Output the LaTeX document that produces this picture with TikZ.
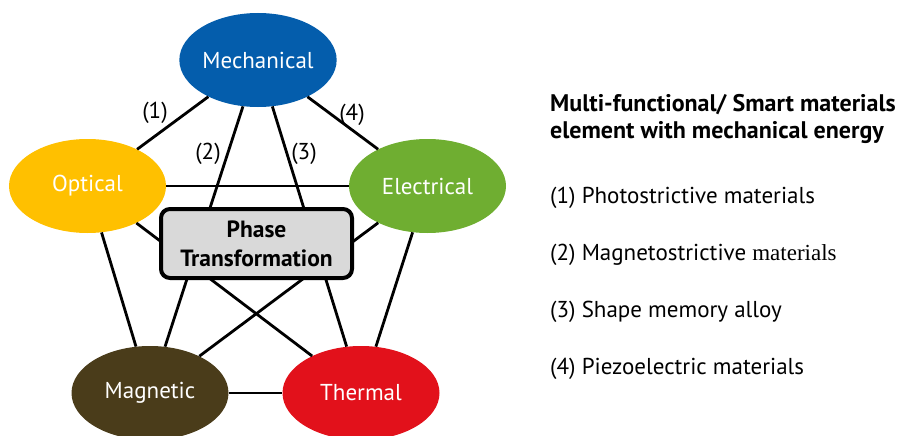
\documentclass[tikz,border=0pt]{standalone}
\usepackage{fontspec}
\setmainfont{PT Sans}
\newfontfamily\timesword{Liberation Serif}
\usetikzlibrary{%
  shapes.geometric,%
  positioning%
}

\definecolor{mechblue}{HTML}{045DAC}
\definecolor{optyellow}{HTML}{FFC000}
\definecolor{elecgreen}{HTML}{6FAE31}
\definecolor{magbrown}{HTML}{4A3C1A}
\definecolor{thermred}{HTML}{E2111B}
\definecolor{coregray}{HTML}{D9D9D9}

\begin{document}
\begin{tikzpicture}[
      x=1pt, y=-1pt,
      font=\fontsize{23}{27}\selectfont,
      domain/.style={
        ellipse,
        fill=#1,
        text=white,
        minimum width=157pt,
        minimum height=94pt,
        inner sep=0pt
      },
      link/.style={line width=2.8pt},
      core/.style={
        draw,
        line width=4pt,
        rounded corners=9pt,
        fill=coregray,
        minimum width=191pt,
        minimum height=69pt,
        align=center,
        font=\fontsize{23.5}{29}\selectfont\bfseries
      },
      lbl/.style={font=\fontsize{23}{24}\selectfont},
      item/.style={anchor=base west, inner sep=0pt}
    ]
    \useasboundingbox (0,0) rectangle (897,436);

    \node[domain=mechblue]  (mech)  at (258,60)    {Mechanical};
    \node[domain=optyellow] (opt)   at (87.5,186)  {Optical};
    \node[domain=elecgreen] (elec)  at (427.5,186) {Electrical};
    \node[domain=magbrown]  (mag)   at (150,393)   {Magnetic};
    \node[domain=thermred]  (therm) at (361,393)   {Thermal};

    \foreach \a/\b in {mech/opt, mech/elec, mech/mag, mech/therm,
                       opt/elec, opt/mag, opt/therm,
                       elec/mag, elec/therm, mag/therm}
      \draw[link] (\a) -- (\b);

    \node[core] (phase) at (256.5,243.5) {Phase\\Transformation};

    \node[lbl] (l1) at (155,113) {(1)};
    \node[lbl] (l2) at (208,154) {(2)};
    \node[lbl] (l3) at (304,154) {(3)};
    \node[lbl] (l4) at (352,115) {(4)};

    \node[item, align=left, font=\fontsize{24}{27}\selectfont\bfseries]
      (title) at (550,138)
      {Multi-functional/ Smart materials\\element with mechanical energy};

    \foreach \txt [count=\i] in {
        {(1) Photostrictive materials},
        {(2) Magnetostrictive {\timesword materials}},
        {(3) Shape memory alloy},
        {(4) Piezoelectric materials}}
      \node[item] (item\i) at (550,146+57*\i) {\txt};
  \end{tikzpicture}
\end{document}
